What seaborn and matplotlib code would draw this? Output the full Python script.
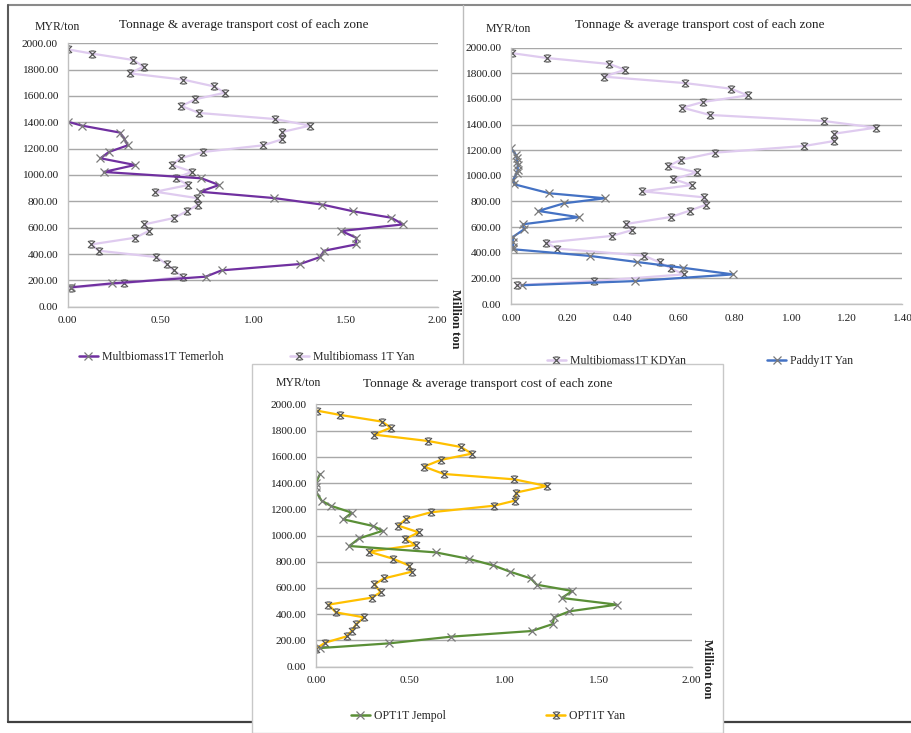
import numpy as np
import pandas as pd
import matplotlib
matplotlib.use("Agg")
import matplotlib.pyplot as plt
import seaborn as sns
from matplotlib.lines import Line2D
from matplotlib.patches import Rectangle
from matplotlib.path import Path
from matplotlib.ticker import FormatStrFormatter, MultipleLocator

# ---------------- data ----------------
title_text = "Tonnage & average transport cost of each zone"
y_unit = "MYR/ton"
x_unit = "Million ton"

# Panel 1
temerloh_x = [0.00, 0.077, 0.283, 0.306, 0.324, 0.223, 0.177, 0.364, 0.195, 0.723, 0.818, 0.715,
              1.115, 1.377, 1.544, 1.748, 1.814, 1.479, 1.559, 1.559, 1.386, 1.364, 1.256, 0.832,
              0.746, 0.238, 0.016]
temerloh_y = [1405, 1375, 1322, 1276, 1225, 1175, 1127, 1076, 1023, 975, 924, 873,
              825, 775, 724, 676, 625, 575, 524, 473, 425, 377, 324, 276,
              228, 177, 147]
yan1_x = [0.00, 0.13, 0.355, 0.41, 0.335, 0.625, 0.79, 0.85, 0.69, 0.615, 0.71, 1.12, 1.31, 1.16,
          1.16, 1.054, 0.733, 0.61, 0.564, 0.672, 0.584, 0.652, 0.474, 0.697, 0.705, 0.643, 0.573,
          0.414, 0.438, 0.366, 0.128, 0.168, 0.479, 0.535, 0.573, 0.622, 0.303, 0.02]
yan1_y = [1954, 1922, 1873, 1823, 1772, 1724, 1673, 1625, 1575, 1524, 1471, 1425, 1375, 1327,
          1271, 1225, 1175, 1127, 1076, 1025, 975, 924, 873, 825, 775, 724, 673,
          625, 575, 524, 473, 425, 377, 324, 276, 228, 177, 144]

# Panel 2
kdyan_x = [0.002, 0.13, 0.352, 0.408, 0.332, 0.622, 0.787, 0.847, 0.686, 0.613, 0.712, 1.119, 1.305,
           1.157, 1.157, 1.049, 0.73, 0.609, 0.563, 0.665, 0.581, 0.646, 0.47, 0.692, 0.698, 0.639,
           0.572, 0.41, 0.434, 0.36, 0.125, 0.166, 0.476, 0.532, 0.572, 0.618, 0.298, 0.02]
kdyan_y = [1958, 1919, 1873, 1828, 1774, 1724, 1680, 1628, 1576, 1532, 1475, 1428, 1376,
           1329, 1272, 1233, 1181, 1126, 1077, 1027, 975, 928, 879, 832, 775, 728,
           679, 624, 577, 531, 479, 432, 377, 325, 278, 231, 179, 148]
paddy_x = [0.00, 0.018, 0.02, 0.022, 0.024, 0.024, 0.02, 0.008, 0.012, 0.137, 0.336, 0.19, 0.098,
           0.243, 0.042, 0.047, 0.008, 0.006, 0.008, 0.008, 0.283, 0.45, 0.614, 0.795, 0.445, 0.038]
paddy_y = [1215, 1163, 1137, 1111, 1085, 1046, 1020, 968, 934, 864, 825, 786, 726,
           677, 622, 583, 525, 486, 447, 427, 375, 328, 283, 231, 179, 146]

# Panel 3
jempol_x = [0.021, 0.00, 0.00, 0.00, 0.03, 0.078, 0.19, 0.146, 0.305, 0.355, 0.23, 0.177, 0.639,
            0.816, 0.944, 1.033, 1.143, 1.175, 1.365, 1.308, 1.601, 1.349, 1.267, 1.26, 1.148,
            0.72, 0.39, 0.021]
jempol_y = [1468, 1402, 1372, 1334, 1265, 1227, 1174, 1123, 1072, 1036, 978, 920, 871,
            821, 772, 724, 673, 625, 577, 524, 473, 422, 376, 325, 272,
            229, 178, 142]
optyan_x = [0.004, 0.128, 0.351, 0.398, 0.309, 0.598, 0.77, 0.83, 0.664, 0.575, 0.68, 1.056, 1.228,
            1.065, 1.06, 0.948, 0.612, 0.479, 0.438, 0.547, 0.474, 0.531, 0.282, 0.41, 0.497, 0.509,
            0.362, 0.311, 0.344, 0.296, 0.066, 0.106, 0.256, 0.213, 0.19, 0.163, 0.048, 0.00]
optyan_y = [1952, 1919, 1868, 1822, 1769, 1720, 1675, 1624, 1576, 1525, 1469, 1428, 1377,
            1327, 1266, 1227, 1177, 1126, 1075, 1024, 973, 928, 877, 823, 770, 724,
            673, 628, 567, 526, 473, 414, 376, 323, 272, 231, 183, 137]

# ---------------- style ----------------
sns.set_theme(style="white")
plt.rcParams['font.family'] = ['Liberation Serif', 'DejaVu Serif']

W, H = 911, 733
fig = plt.figure(figsize=(W / 100, H / 100), dpi=100)
fig.patch.set_facecolor("white")


def px(x, y):
    return x / W, 1 - y / H


def ax_rect(x0, x1, ytop, ybot):
    return [x0 / W, 1 - ybot / H, (x1 - x0) / W, (ybot - ytop) / H]


# star-like marker (x with top/bottom bars)
hv = [(-1, -1), (1, 1), (-1, 1), (1, -1), (-0.6, 1), (0.6, 1), (-0.6, -1), (0.6, -1)]
hc = [Path.MOVETO, Path.LINETO] * 4
star_marker = Path(hv, hc)

MK = "#7a7a7a"
MK_DARK = "#555555"
C_PURPLE = "#7030A0"
C_LAV = "#dfcbef"
C_BLUE = "#4472C4"
C_GREEN = "#5a8f37"
C_YEL = "#FFC000"


def style_axes(ax, xmax, xstep, zorder):
    ax.set_zorder(zorder)
    ax.patch.set_alpha(0)
    ax.set_xlim(0, xmax)
    ax.set_ylim(0, 2000)
    ax.yaxis.set_major_locator(MultipleLocator(200))
    ax.xaxis.set_major_locator(MultipleLocator(xstep))
    ax.yaxis.set_major_formatter(FormatStrFormatter("%.2f"))
    ax.xaxis.set_major_formatter(FormatStrFormatter("%.2f"))
    ax.grid(axis="y", color="#a8a8a8", lw=1.0)
    ax.grid(axis="x", visible=False)
    ax.set_axisbelow(True)
    for s in ["top", "right"]:
        ax.spines[s].set_visible(False)
    for s in ["left", "bottom"]:
        ax.spines[s].set_color("#c0c0c0")
        ax.spines[s].set_linewidth(1.0)
    ax.tick_params(axis="both", which="major", labelsize=8.2, colors="#1e1e1e",
                   length=3, width=0.8, direction="out", pad=4)
    ax.tick_params(axis="both", color="#b0b0b0")
    ax.set_xlabel("")
    ax.set_ylabel("")


def draw(ax, xs, ys, color, marker, mec, ms):
    df = pd.DataFrame({"x": xs, "y": ys})
    sns.lineplot(data=df, x="x", y="y", sort=False, estimator=None, ax=ax, color=color,
                 lw=1.6, marker=marker, ms=ms, mec=mec, mfc="none", mew=0.9, legend=False)


def handle(color, marker, mec, ms):
    return Line2D([0], [0], color=color, lw=1.8, marker=marker, ms=ms, mec=mec, mfc="none", mew=0.9)


# ---------------- frame lines ----------------
frame = [
    ((8, 911), (5, 5), "#8a8a8a", 1.5),
    ((8, 8), (5, 722), "#5a5a5a", 1.5),
    ((8, 911), (722, 722), "#404040", 1.6),
    ((463, 463), (5, 364), "#bdbdbd", 1.0),
]
for xs_, ys_, c, lw in frame:
    fx = [v / W for v in xs_]
    fy = [1 - v / H for v in ys_]
    fig.add_artist(Line2D(fx, fy, color=c, lw=lw, zorder=0.5, transform=fig.transFigure))

# bottom panel box
fig.add_artist(Rectangle(px(252, 733), (723 - 252) / W, (733 - 364) / H, transform=fig.transFigure,
                         facecolor="white", edgecolor="#c8c8c8", lw=1.0, zorder=1))

# ---------------- panel 1 ----------------
ax1 = fig.add_axes(ax_rect(67.7, 437.7, 43.3, 306.7))
draw(ax1, yan1_x, yan1_y, C_LAV, star_marker, MK_DARK, 5)
draw(ax1, temerloh_x, temerloh_y, C_PURPLE, "x", MK, 6)
style_axes(ax1, 2.0, 0.5, 0)
ax1.legend([handle(C_PURPLE, "x", MK, 6), handle(C_LAV, star_marker, MK_DARK, 5)],
           ["Multbiomass1T Temerloh", "Multibiomass 1T Yan"],
           loc="center left", bbox_to_anchor=px(79, 357), bbox_transform=fig.transFigure,
           ncol=2, frameon=False, fontsize=8.5, handlelength=1.6, handletextpad=0.35,
           columnspacing=5.6, borderpad=0, borderaxespad=0, numpoints=1)
fig.text(*px(244, 25), title_text, ha="center", va="center", fontsize=9.5, color="#222222")
fig.text(*px(57, 27), y_unit, ha="center", va="center", fontsize=8.5, color="#222222")
fig.text(*px(455, 319), x_unit, ha="center", va="center", fontsize=9, rotation=-90,
         fontweight="bold", color="#222222")

# ---------------- panel 2 ----------------
ax2 = fig.add_axes(ax_rect(511, 902.3, 47.7, 304))
draw(ax2, kdyan_x, kdyan_y, C_LAV, star_marker, MK_DARK, 5)
draw(ax2, paddy_x, paddy_y, C_BLUE, "x", MK, 6)
style_axes(ax2, 1.4, 0.2, 0)
ax2.legend([handle(C_LAV, star_marker, MK_DARK, 5), handle(C_BLUE, "x", MK, 6)],
           ["Multibiomass1T KDYan", "Paddy1T Yan"],
           loc="center left", bbox_to_anchor=px(547, 361), bbox_transform=fig.transFigure,
           ncol=2, frameon=False, fontsize=8.5, handlelength=1.6, handletextpad=0.35,
           columnspacing=6.9, borderpad=0, borderaxespad=0, numpoints=1)
fig.text(*px(700, 25), title_text, ha="center", va="center", fontsize=9.5, color="#222222")
fig.text(*px(508, 29), y_unit, ha="center", va="center", fontsize=8.5, color="#222222")

# ---------------- panel 3 ----------------
ax3 = fig.add_axes(ax_rect(316, 691.7, 404.3, 666.7))
draw(ax3, optyan_x, optyan_y, C_YEL, star_marker, MK_DARK, 5)
draw(ax3, jempol_x, jempol_y, C_GREEN, "x", MK, 6)
style_axes(ax3, 2.0, 0.5, 2)
ax3.legend([handle(C_GREEN, "x", MK, 6), handle(C_YEL, star_marker, MK_DARK, 5)],
           ["OPT1T Jempol", "OPT1T Yan"],
           loc="center left", bbox_to_anchor=px(351, 716), bbox_transform=fig.transFigure,
           ncol=2, frameon=False, fontsize=8.5, handlelength=1.6, handletextpad=0.35,
           columnspacing=8.5, borderpad=0, borderaxespad=0, numpoints=1)
fig.text(*px(488, 384), title_text, ha="center", va="center", fontsize=9.5, color="#222222",
         zorder=3)
fig.text(*px(298, 383), y_unit, ha="center", va="center", fontsize=8.5, color="#222222", zorder=3)
fig.text(*px(707, 669), x_unit, ha="center", va="center", fontsize=9, rotation=-90,
         fontweight="bold", color="#222222", zorder=3)

fig.savefig("out.png", dpi=100)
